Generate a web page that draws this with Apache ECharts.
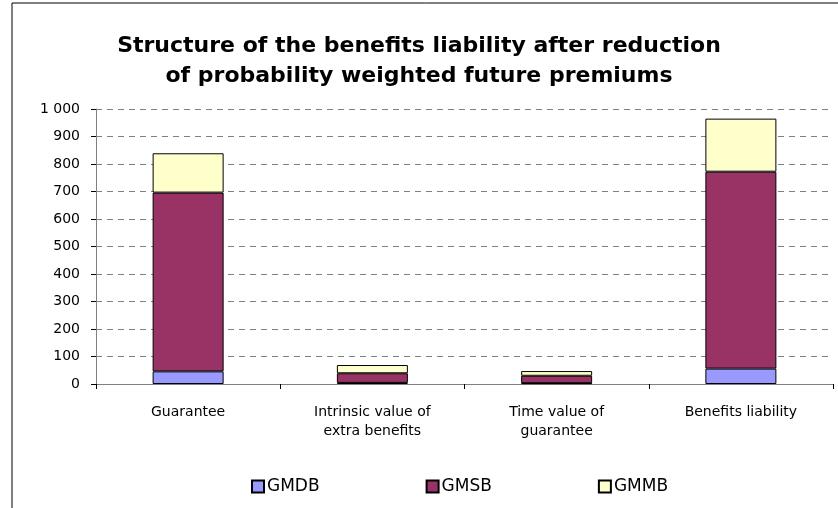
<!DOCTYPE html>
<html>
<head>
<meta charset="utf-8">
<script src="https://cdn.jsdelivr.net/npm/echarts@6/dist/echarts.min.js"></script>
<style>
  html, body { margin: 0; padding: 0; background: #fff; }
  #chart { width: 838px; height: 508px; }
</style>
</head>
<body>
<div id="chart"></div>
<script>
// categories on the x axis
const categories = ['Guarantee', 'Intrinsic value of\nextra benefits', 'Time value of\nguarantee', 'Benefits liability']
// stacked series, bottom to top
const gmdb = [46, 4, 3, 56]
const gmsb = [650, 35, 27, 716]
const gmmb = [143, 30, 17, 193]
const seriesNames = ['GMDB', 'GMSB', 'GMMB']

const chart = echarts.init(document.getElementById('chart'))

const barStyle = (color) => ({
  color: color,
  borderColor: '#000',
  borderWidth: 1
})

const options = {
  backgroundColor: '#fff',
  animation: false,
  graphic: [{
    type: 'rect',
    shape: { x: 12, y: 3, width: 900, height: 600 },
    style: { fill: 'none', stroke: '#000', lineWidth: 1 },
    silent: true
  }],
  title: {
    text: 'Structure of the benefits liability after reduction\nof probability weighted future premiums',
    left: 'center',
    top: 26,
    textStyle: {
      fontFamily: 'DejaVu Sans',
      fontWeight: 'bold',
      fontSize: 22,
      lineHeight: 30,
      color: '#000'
    }
  },
  legend: {
    data: seriesNames,
    bottom: 8,
    left: 246,
    itemGap: 106,
    itemWidth: 12,
    itemHeight: 12,
    icon: 'rect',
    textStyle: {
      fontFamily: 'DejaVu Sans',
      fontSize: 17,
      color: '#000',
      padding: [0, 0, 0, -2]
    }
  },
  grid: {
    left: 96,
    right: 5,
    top: 109,
    bottom: 124
  },
  xAxis: {
    type: 'category',
    data: categories,
    axisLine: { lineStyle: { color: '#808080', width: 1 } },
    axisTick: { show: true, length: 5, lineStyle: { color: '#000' } },
    axisLabel: {
      fontFamily: 'DejaVu Sans',
      fontSize: 14,
      color: '#000',
      margin: 19,
      lineHeight: 19
    }
  },
  yAxis: {
    type: 'value',
    min: 0,
    max: 1000,
    interval: 100,
    axisLine: { show: true, lineStyle: { color: '#808080', width: 1 } },
    axisTick: { show: true, length: 5, lineStyle: { color: '#000' } },
    axisLabel: {
      fontFamily: 'DejaVu Sans',
      fontSize: 14,
      color: '#000',
      margin: 16,
      formatter: function (v) {
        return v >= 1000 ? String(v).replace(/\B(?=(\d{3})+(?!\d))/g, ' ') : String(v)
      }
    },
    splitLine: {
      show: true,
      lineStyle: { color: '#808080', type: [6, 5], width: 1 }
    }
  },
  series: [
    { name: 'GMDB', type: 'bar', stack: 'total', data: gmdb, barWidth: 71, itemStyle: barStyle('#9999FF') },
    { name: 'GMSB', type: 'bar', stack: 'total', data: gmsb, barWidth: 71, itemStyle: barStyle('#993366') },
    { name: 'GMMB', type: 'bar', stack: 'total', data: gmmb, barWidth: 71, itemStyle: barStyle('#FFFFCC') }
  ]
}

chart.setOption(options)
</script>
</body>
</html>
